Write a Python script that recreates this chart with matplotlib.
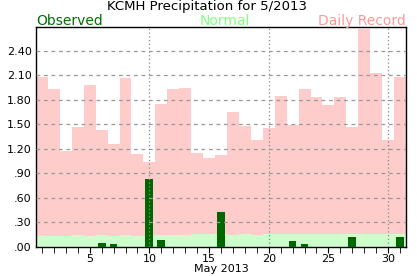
import matplotlib.pyplot as plt
import numpy as np

days = list(range(1, 32))
record = [2.08, 1.93, 1.17, 1.46, 1.98, 1.43, 1.26, 2.06, 1.13, 1.04,
          1.75, 1.93, 1.94, 1.15, 1.09, 1.12, 1.65, 1.48, 1.31, 1.45,
          1.84, 1.49, 1.93, 1.83, 1.73, 1.83, 1.46, 2.67, 2.13, 1.31, 2.08]
normal = [0.13, 0.13, 0.13, 0.14, 0.13, 0.14, 0.13, 0.14, 0.13, 0.13,
          0.14, 0.14, 0.14, 0.15, 0.15, 0.15, 0.14, 0.15, 0.14, 0.16,
          0.16, 0.16, 0.16, 0.16, 0.16, 0.16, 0.16, 0.16, 0.16, 0.16, 0.16]
observed = [0, 0, 0, 0, 0, 0.04, 0.03, 0, 0, 0.83,
            0.08, 0, 0, 0, 0, 0.42, 0, 0, 0, 0,
            0, 0.07, 0.03, 0, 0, 0, 0.12, 0, 0, 0, 0.12]
yticks = [0, 0.3, 0.6, 0.9, 1.2, 1.5, 1.8, 2.1, 2.4]
ylabels = ['.00', '.30', '.60', '.90', '1.20', '1.50', '1.80', '2.10', '2.40']

fig = plt.figure(figsize=(4.17, 2.76), dpi=100)
ax = fig.add_axes([0.0863, 0.1062, 0.8873, 0.7958])

ax.bar(days, record, width=1.0, color='#ffcccc', zorder=1)
ax.bar(days, normal, width=1.0, color='#ccffcc', zorder=2)
ax.bar(days, observed, width=0.65, color='#006600', zorder=3)

for y in yticks[1:]:
    ax.axhline(y, color='#999999', linestyle=(0, (3, 3)), linewidth=0.9, zorder=4)
for d in [10, 20, 30]:
    ax.axvline(d, color='#888888', linestyle=(0, (1, 2)), linewidth=0.9, zorder=4)

ax.set_xlim(0.5, 31.5)
ax.set_ylim(0, 2.69)
ax.set_yticks(yticks)
ax.set_yticklabels(ylabels, fontsize=8)
ax.tick_params(axis='y', length=0, pad=3)
ax.set_xticks([5, 10, 15, 20, 25, 30])
ax.set_xticks(days, minor=True)
ax.tick_params(axis='x', which='both', length=4, direction='out', labelsize=8, pad=1)
ax.set_xlabel('May 2013', fontsize=8, labelpad=0)
for s in ax.spines.values():
    s.set_linewidth(1.0)

fig.text(0.497, 0.962, 'KCMH Precipitation for 5/2013', ha='center', va='baseline', fontsize=9.5)
fig.text(0.0863, 0.910, 'Observed', ha='left', va='baseline', fontsize=10, color='#007000')
fig.text(0.54, 0.910, 'Normal', ha='center', va='baseline', fontsize=10, color='#80ff80')
fig.text(0.9736, 0.910, 'Daily Record', ha='right', va='baseline', fontsize=10, color='#ff9999')

fig.savefig('out.png', dpi=100)
